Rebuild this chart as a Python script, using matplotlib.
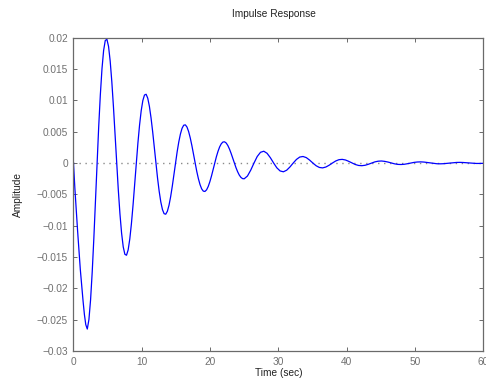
import matplotlib
matplotlib.use("Agg")
import matplotlib.pyplot as plt

# values
time_sec = [
    0.0, 0.2, 0.4, 0.6, 0.8, 1.0, 1.2, 1.4, 1.6, 1.8,
    2.02, 2.26, 2.50, 2.74, 2.98, 3.22, 3.46, 3.69, 3.93, 4.17, 4.41, 4.65,
    4.89, 5.13, 5.37, 5.61, 5.85, 6.09, 6.33, 6.56, 6.80, 7.04, 7.28, 7.52,
    7.76, 8.00, 8.24, 8.48, 8.72, 8.96, 9.20, 9.43, 9.67, 9.91, 10.15, 10.39,
    10.63, 10.87, 11.11, 11.35, 11.59, 11.83, 12.07, 12.30, 12.54, 12.78, 13.02, 13.26,
    13.50, 13.74, 13.98, 14.22, 14.46, 14.70, 14.94, 15.17, 15.41, 15.65, 15.89, 16.13,
    16.37, 16.61, 16.85, 17.09, 17.33, 17.57, 17.81, 18.04, 18.28, 18.52, 18.76, 19.00,
    19.24, 19.48, 19.72, 19.96, 20.20, 20.44, 20.68, 20.91, 21.15, 21.39, 21.63, 21.87,
    22.11, 22.35, 22.59, 22.83, 23.07, 23.31, 23.55, 23.78, 24.02, 24.26, 24.50, 24.74,
    24.98, 25.46, 25.94, 26.42, 26.89, 27.37,
    27.85, 28.33, 28.81, 29.29, 29.76, 30.24,
    30.72, 31.20, 31.68, 32.16, 32.63, 33.11,
    33.59, 34.07, 34.55, 35.03, 35.50, 35.98,
    36.46, 36.94, 37.42, 37.90, 38.37, 38.85,
    39.33, 39.81, 40.29, 40.77, 41.24, 41.72,
    42.20, 42.68, 43.16, 43.64, 44.11, 44.59,
    45.07, 45.55, 46.03, 46.51, 46.98, 47.46,
    47.94, 48.42, 48.90, 49.38, 49.85, 50.33,
    50.81, 51.29, 51.77, 52.25, 52.72, 53.20,
    53.68, 54.16, 54.64, 55.12, 55.59, 56.07,
    56.55, 57.03, 57.51, 57.99, 58.46, 58.94,
    59.42, 60.0,
]
amplitude = [
    0.0, -0.0040, -0.0075, -0.0108, -0.0140, -0.0170, -0.0196, -0.0220, -0.0242, -0.0258,
    -0.02650, -0.02498, -0.02185, -0.01741, -0.01201, -0.00607, 0.0, 0.00578, 0.01089, 0.01503, 0.01796, 0.01955,
    0.01975, 0.01861, 0.01628, 0.01297, 0.00895, 0.00452, 0.0, -0.00431, -0.00812, -0.01120, -0.01338, -0.01457,
    -0.01472, -0.01387, -0.01213, -0.00967, -0.00667, -0.00337, 0.0, 0.00321, 0.00605, 0.00835, 0.00997, 0.01085,
    0.01097, 0.01034, 0.00904, 0.00720, 0.00497, 0.00251, 0.0, -0.00239, -0.00451, -0.00622, -0.00743, -0.00809,
    -0.00817, -0.00770, -0.00674, -0.00537, -0.00370, -0.00187, 0.0, 0.00178, 0.00336, 0.00463, 0.00554, 0.00603,
    0.00609, 0.00574, 0.00502, 0.00400, 0.00276, 0.00139, 0.0, -0.00133, -0.00250, -0.00345, -0.00413, -0.00449,
    -0.00454, -0.00428, -0.00374, -0.00298, -0.00206, -0.00104, 0.0, 0.00099, 0.00186, 0.00257, 0.00307, 0.00335,
    0.00338, 0.00319, 0.00279, 0.00222, 0.00153, 0.00077, 0.0, -0.00074, -0.00139, -0.00192, -0.00229, -0.00249,
    -0.00252, -0.00208, -0.00114, 0.0, 0.00104, 0.00171,
    0.00188, 0.00155, 0.00085, 0.0, -0.00077, -0.00127,
    -0.00140, -0.00115, -0.00063, 0.0, 0.00057, 0.00095,
    0.00104, 0.00086, 0.00047, 0.0, -0.00043, -0.00071,
    -0.00078, -0.00064, -0.00035, 0.0, 0.00032, 0.00053,
    0.00058, 0.00048, 0.00026, 0.0, -0.00024, -0.00039,
    -0.00043, -0.00036, -0.00020, 0.0, 0.00018, 0.00029,
    0.00032, 0.00026, 0.00015, 0.0, -0.00013, -0.00022,
    -0.00024, -0.00020, -0.00011, 0.0, 0.00010, 0.00016,
    0.00018, 0.00015, 0.00008, 0.0, -0.00007, -0.00012,
    -0.00013, -0.00011, -0.00006, 0.0, 0.00005, 0.00009,
    0.00010, 0.00008, 0.00004, 0.0, -0.00004, -0.00007,
    -0.00007, -0.00005,
]
x_ticks = [0, 10, 20, 30, 40, 50, 60]
y_ticks = [-0.03, -0.025, -0.02, -0.015, -0.01, -0.005, 0, 0.005, 0.01, 0.015, 0.02]
y_tick_labels = ["\u22120.03", "\u22120.025", "\u22120.02", "\u22120.015", "\u22120.01",
                 "\u22120.005", "0", "0.005", "0.01", "0.015", "0.02"]

plt.rcParams['font.family'] = ['Liberation Sans', 'DejaVu Sans']
plt.rcParams['font.size'] = 7.3

axis_grey = "#6a6a6a"

fig = plt.figure(figsize=(4.86, 3.83), dpi=100)
ax = fig.add_axes([0.1512, 0.0836, 0.8436, 0.818])

ax.axhline(0, color="#8a8a8a", linewidth=1.0, linestyle=(0, (1, 3.3)), zorder=1)
ax.plot(time_sec, amplitude, color="#0000ff", linewidth=0.9, zorder=2)

ax.set_xlim(0, 60)
ax.set_ylim(-0.03, 0.02)
ax.set_xticks(x_ticks)
ax.set_yticks(y_ticks)
ax.set_yticklabels(y_tick_labels)

for side in ax.spines.values():
    side.set_color(axis_grey)
    side.set_linewidth(0.9)
ax.tick_params(direction="in", length=3, width=0.7, colors=axis_grey,
               top=True, right=True, labelcolor="#707070")
ax.tick_params(axis="x", pad=4)
ax.tick_params(axis="y", pad=4)

ax.set_title("Impulse Response", fontsize=7.3, pad=15, color="#222222", x=0.489)
ax.set_xlabel("Time (sec)", labelpad=1, color="#222222")
ax.set_ylabel("Amplitude", labelpad=10, color="#222222")

fig.savefig("out.png", dpi=100)
